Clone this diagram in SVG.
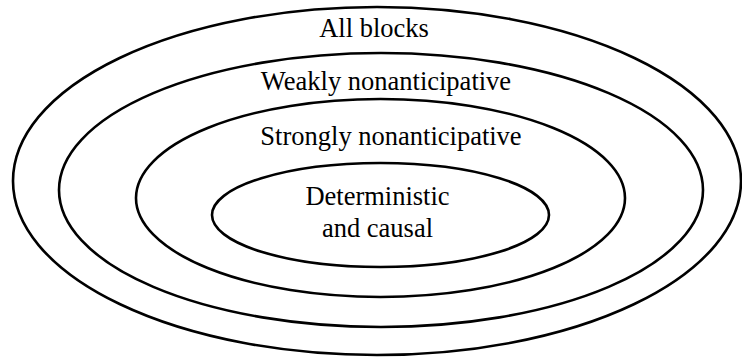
<svg xmlns="http://www.w3.org/2000/svg" width="742" height="358" viewBox="0 0 742 358">
  <style>
    .ring { fill: none; stroke: #000; stroke-width: 2.6; }
    .label { font-family: "Liberation Serif", "Times New Roman", serif; font-size: 26.5px; fill: #000; text-anchor: middle; }
  </style>
  <rect width="742" height="358" fill="#fff"/>
  <!-- nested sets, outermost first -->
  <g id="all-blocks">
    <ellipse class="ring" cx="377" cy="181" rx="364" ry="174"/>
    <text class="label" x="374" y="37">All blocks</text>
  </g>
  <g id="weakly-nonanticipative">
    <ellipse class="ring" cx="381" cy="190" rx="322" ry="137"/>
    <text class="label" x="386" y="90">Weakly nonanticipative</text>
  </g>
  <g id="strongly-nonanticipative">
    <ellipse class="ring" cx="380.5" cy="198" rx="244.5" ry="99"/>
    <text class="label" x="391" y="145">Strongly nonanticipative</text>
  </g>
  <g id="deterministic-causal">
    <ellipse class="ring" cx="380.5" cy="215" rx="168.5" ry="52"/>
    <text class="label" x="377.5" y="205">Deterministic</text>
    <text class="label" x="377.5" y="237">and causal</text>
  </g>
</svg>
